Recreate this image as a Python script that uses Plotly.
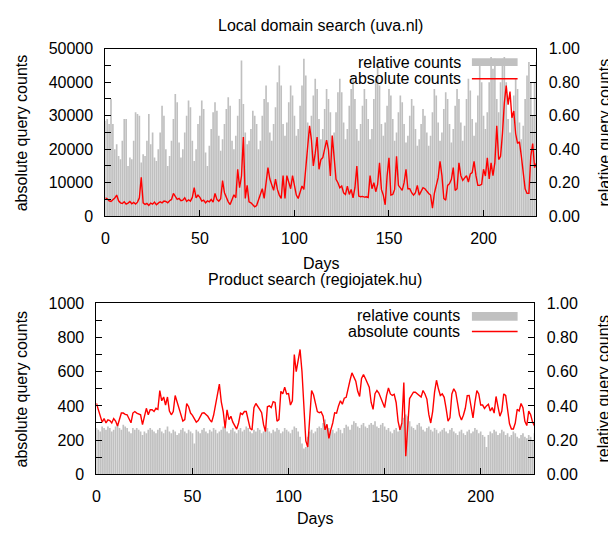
import plotly.graph_objects as go

# ---------------- data ----------------
rel_uva = [
    0.57, 0.58, 0.55, 0.70, 0.55, 0.40, 0.43,
    0.36, 0.34, 0.45, 0.58, 0.58, 0.30, 0.35,
    0.34, 0.45, 0.62, 0.61, 0.60, 0.32, 0.37,
    0.36, 0.45, 0.61, 0.43, 0.50, 0.35, 0.33,
    0.40, 0.50, 0.66, 0.60, 0.40, 0.30, 0.36,
    0.45, 0.58, 0.73, 0.68, 0.44, 0.35, 0.40,
    0.50, 0.60, 0.69, 0.65, 0.45, 0.33, 0.40,
    0.55, 0.60, 0.69, 0.64, 0.38, 0.30, 0.42,
    0.52, 0.62, 0.68, 0.63, 0.48, 0.39, 0.46,
    0.55, 0.64, 0.71, 0.66, 0.45, 0.40, 0.48,
    0.60, 0.70, 0.93, 0.67, 0.50, 0.43, 0.45,
    0.52, 0.63, 0.60, 0.55, 0.40, 0.45, 0.60,
    0.70, 0.78, 0.68, 0.50, 0.45, 0.55, 0.65,
    0.80, 0.90, 0.78, 0.55, 0.48, 0.56, 0.68,
    0.78, 0.72, 0.60, 0.48, 0.52, 0.66, 0.78,
    0.94, 0.84, 0.56, 0.50, 0.60, 0.72, 0.82,
    0.76, 0.58, 0.46, 0.52, 0.64, 0.76, 0.70,
    0.62, 0.48, 0.50, 0.62, 0.74, 0.82, 0.74,
    0.56, 0.46, 0.52, 0.66, 0.76, 0.82, 0.70,
    0.52, 0.45, 0.55, 0.66, 0.76, 0.70, 0.58,
    0.46, 0.52, 0.70, 0.82, 0.92, 0.78, 0.55,
    0.48, 0.56, 0.66, 0.76, 0.72, 0.58, 0.45,
    0.50, 0.62, 0.72, 0.68, 0.55, 0.44, 0.48,
    0.60, 0.70, 0.66, 0.52, 0.42, 0.46, 0.55,
    0.64, 0.60, 0.50, 0.42, 0.48, 0.62, 0.76,
    0.72, 0.56, 0.45, 0.50, 0.64, 0.74, 0.70,
    0.55, 0.44, 0.52, 0.66, 0.76, 0.70, 0.56,
    0.45, 0.54, 0.70, 0.82, 0.75, 0.58, 0.48,
    0.56, 0.72, 0.90, 0.80, 0.60, 0.52, 0.62,
    0.80, 0.95, 0.88, 0.94, 0.70, 0.62, 0.80,
    0.94, 0.95, 0.80, 0.58, 0.50, 0.60, 0.72,
    0.82, 0.76, 0.56, 0.46, 0.54, 0.70, 0.84,
    0.92, 0.80, 0.60, 0.80, 0.92,
]

abs_uva = [
    5500, 5200, 4600, 4400, 4900, 5400, 6300, 4600, 4000, 3800,
    4300, 3600, 3900, 4400, 3700, 4100, 3600, 4200, 5500, 11600,
    4000, 3500, 3800, 3200, 3900, 3600, 4200, 3400, 3900, 4300,
    4000, 4500, 4400, 4000, 4600, 5000, 6800, 6000, 5000, 5300,
    4600, 4800, 5500, 4400, 4900, 4500, 5600, 8500, 5500, 6300,
    5600, 4500, 4800, 4000, 4600, 4300, 5000, 4200, 6800, 5000,
    4500, 5200, 10600, 7000, 5500, 4300, 3500, 5000, 6400, 5500,
    14000, 8500, 12000, 23600, 5300, 9200, 4300, 4000, 3500, 2800,
    3200, 5000, 6600, 8200, 5300, 10000, 14500, 11100, 9000, 7700,
    11100, 8000, 6300, 5300, 12100, 5300, 12100, 10000, 8200, 12100,
    9000, 6300, 5300, 7200, 9000, 8000, 14000, 18800, 27000, 22700,
    15000, 18800, 23600, 14000, 16900, 17500, 19800, 22700, 19800, 12000,
    24100, 16900, 11000, 10000, 8500, 9000, 7000, 6500, 9000, 6500,
    8000, 5500, 8500, 15000, 6000, 5800, 5900, 5700, 5800, 5600,
    12100, 8200, 10000, 7300, 9500, 15900, 8000, 6300, 3400, 12000,
    17400, 6300, 6500, 8000, 17900, 9200, 8500, 7700, 10000, 14000,
    8200, 8200, 7000, 6300, 7000, 9200, 6300, 7500, 8500, 8200,
    7300, 6800, 6300, 2400, 6800, 9200, 11500, 16400, 12100, 5300,
    4800, 9200, 9700, 11000, 14500, 7700, 8200, 15900, 12100, 10700,
    11500, 12100, 10200, 12600, 13000, 16400, 12100, 9200, 9200, 9500,
    14000, 12000, 17400, 11100, 15900, 12100, 16000, 27000, 16900, 17900,
    24600, 33800, 39000, 33300, 37200, 29400, 31400, 24600, 21700, 22200,
    17900, 12100, 8200, 6800, 6800, 17900, 21700, 14500, 15900,
]

rel_regio = [
    0.27, 0.26, 0.25, 0.28, 0.27, 0.26, 0.28,
    0.27, 0.25, 0.26, 0.28, 0.29, 0.27, 0.26,
    0.29, 0.28, 0.27, 0.25, 0.24, 0.27, 0.26,
    0.27, 0.26, 0.25, 0.23, 0.25, 0.24, 0.26,
    0.27, 0.26, 0.25, 0.24, 0.26, 0.27, 0.25,
    0.24, 0.26, 0.28, 0.25, 0.24, 0.26, 0.25,
    0.23, 0.24, 0.26, 0.27, 0.25, 0.24, 0.26,
    0.25, 0.24, 0.18, 0.26, 0.25, 0.24, 0.26,
    0.27, 0.25, 0.24, 0.26, 0.25, 0.27, 0.26,
    0.24, 0.25, 0.26, 0.28, 0.27, 0.25, 0.24,
    0.26, 0.27, 0.25, 0.24, 0.26, 0.27, 0.25,
    0.26, 0.28, 0.27, 0.25, 0.24, 0.26, 0.25,
    0.27, 0.26, 0.24, 0.25, 0.26, 0.27, 0.25,
    0.24, 0.26, 0.25, 0.27, 0.26, 0.24, 0.25,
    0.27, 0.26, 0.25, 0.24, 0.26, 0.28, 0.27,
    0.25, 0.22, 0.18, 0.15, 0.16, 0.22, 0.25,
    0.26, 0.24, 0.25, 0.27, 0.28, 0.27, 0.30,
    0.32, 0.29, 0.27, 0.25, 0.26, 0.24, 0.25,
    0.27, 0.26, 0.24, 0.27, 0.29, 0.28, 0.26,
    0.29, 0.31, 0.30, 0.28, 0.27, 0.29, 0.30,
    0.28, 0.27, 0.29, 0.30, 0.29, 0.31, 0.28,
    0.27, 0.29, 0.30, 0.28, 0.26, 0.27, 0.25,
    0.24, 0.26, 0.27, 0.25, 0.28, 0.30, 0.33,
    0.35, 0.34, 0.31, 0.28, 0.27, 0.26, 0.29,
    0.30, 0.28, 0.26, 0.25, 0.27, 0.28, 0.26,
    0.25, 0.27, 0.26, 0.24, 0.25, 0.26, 0.27,
    0.25, 0.24, 0.26, 0.27, 0.25, 0.24, 0.23,
    0.25, 0.26, 0.24, 0.23, 0.25, 0.26, 0.24,
    0.25, 0.27, 0.26, 0.24, 0.25, 0.23, 0.22,
    0.16, 0.23, 0.25, 0.24, 0.26, 0.25, 0.23,
    0.24, 0.26, 0.25, 0.23, 0.24, 0.22, 0.23,
    0.25, 0.24, 0.22, 0.21, 0.23, 0.24, 0.22,
    0.21, 0.23, 0.22, 0.20, 0.24,
]

abs_regio = [
    415, 377, 330, 305, 326, 300, 318, 314, 300, 326,
    311, 282, 320, 358, 358, 350, 348, 320, 301, 358,
    367, 358, 355, 348, 290, 340, 386, 348, 377, 377,
    367, 386, 380, 490, 430, 452, 405, 452, 370, 348,
    367, 461, 424, 386, 350, 311, 320, 414, 395, 358,
    345, 320, 305, 314, 340, 358, 360, 348, 339, 320,
    305, 345, 405, 470, 527, 424, 367, 270, 377, 320,
    339, 305, 280, 264, 300, 358,
    350, 367, 367, 310, 268, 260, 390, 414, 400, 380,
    360, 290, 250, 395, 400, 390, 425, 420, 310, 320,
    485, 470, 510, 470, 472, 405, 430, 700, 600, 655,
    730, 600, 370, 195, 160, 300, 490, 465, 424, 367,
    360, 365, 340, 260, 292, 210, 260, 300, 360, 358,
    400, 430, 410, 445, 450, 510, 550, 593, 570, 545,
    485, 455, 560, 584, 560, 530, 510, 420, 380, 471,
    490, 475, 443,
    410, 390, 460, 505, 470, 461, 468, 420, 311, 260,
    300, 537, 105, 280, 443, 461, 480, 480, 470, 460,
    452, 490, 470, 440, 350, 300, 367, 480, 550, 500,
    461, 470, 450, 386, 311, 330, 470, 500, 480, 414,
    345, 318, 345, 386, 460, 461, 405, 330, 420, 490,
    470, 405, 405, 385, 400, 410, 370, 390, 358, 455,
    395, 340, 370, 470, 461, 380, 295, 265, 265, 300,
    380, 370, 414, 390, 310, 285, 370, 348, 305, 282,
]

days_uva = list(range(len(rel_uva)))
days_uva_abs = list(range(len(abs_uva)))
days_regio = list(range(len(rel_regio)))
days_regio_abs = list(range(len(abs_regio)))

x_ticks = [0, 50, 100, 150, 200]
rel_ticks = [0.0, 0.2, 0.4, 0.6, 0.8, 1.0]
uva_ticks = [0, 10000, 20000, 30000, 40000, 50000]
regio_ticks = [0, 200, 400, 600, 800, 1000]

# ---------------- layout helpers ----------------
W, H = 608, 537
def px(x):
    return x / W
def py(y):
    return 1 - y / H

FONT = "Liberation Sans, Arial, Helvetica, sans-serif"
GRAY = "#c0c0c0"
RED = "#ff0000"

fig = go.Figure()
fig.add_trace(go.Bar(x=days_uva, y=rel_uva, xaxis="x", yaxis="y",
                     marker=dict(color=GRAY, line=dict(width=0)),
                     name="relative counts", showlegend=False))
fig.add_trace(go.Scatter(x=days_uva_abs, y=abs_uva, xaxis="x", yaxis="y2",
                         mode="lines", line=dict(color=RED, width=1.4),
                         name="absolute counts", showlegend=False))
fig.add_trace(go.Bar(x=days_regio, y=rel_regio, xaxis="x2", yaxis="y3",
                     marker=dict(color=GRAY, line=dict(width=0)),
                     name="relative counts", showlegend=False))
fig.add_trace(go.Scatter(x=days_regio_abs, y=abs_regio, xaxis="x2", yaxis="y4",
                         mode="lines", line=dict(color=RED, width=1.4),
                         name="absolute counts", showlegend=False))

def xax(domain, anchor):
    return dict(domain=domain, anchor=anchor, range=[0, 228],
                tickmode="array", tickvals=x_ticks,
                ticks="inside", ticklen=6, tickcolor="black",
                showline=True, linecolor="black", linewidth=1, mirror=True,
                showgrid=False, zeroline=False, ticklabelstandoff=8,
                tickfont=dict(family=FONT, size=16, color="black"))

def yax(domain, anchor, rng, tickvals, fmt, minor_dtick, side, overlay=None):
    d = dict(domain=domain, anchor=anchor, range=rng, side=side,
             tickmode="array", tickvals=tickvals, tickformat=fmt,
             ticks="inside", ticklen=6, tickcolor="black",
             minor=dict(dtick=minor_dtick, tick0=0, ticks="inside", ticklen=6,
                        tickcolor="black", showgrid=False),
             showline=True, linecolor="black", linewidth=1,
             showgrid=False, zeroline=False, ticklabelstandoff=8,
             tickfont=dict(family=FONT, size=16, color="black"))
    if overlay:
        d["overlaying"] = overlay
        d.pop("domain")
    return d

top_x = [px(102), px(536)]
top_y = [py(215), py(42)]
bot_x = [px(93), px(534)]
bot_y = [py(481.5), py(305)]

fig.update_layout(
    width=W, height=H,
    margin=dict(l=0, r=0, t=0, b=0),
    paper_bgcolor="white", plot_bgcolor="white",
    bargap=0.12,
    showlegend=False,
    font=dict(family=FONT, size=16, color="black"),
    xaxis=xax(top_x, "y"),
    yaxis=yax(top_y, "x", [0, 1], rel_ticks, ".2f", 0.1, "right"),
    yaxis2=yax(top_y, "x", [0, 50000], uva_ticks, "d", 5000, "left", overlay="y"),
    xaxis2=xax(bot_x, "y3"),
    yaxis3=yax(bot_y, "x2", [0, 1], rel_ticks, ".2f", 0.1, "right"),
    yaxis4=yax(bot_y, "x2", [0, 1000], regio_ticks, "d", 100, "left", overlay="y3"),
)

def text(x, y, s, angle=0, xanchor="center"):
    fig.add_annotation(x=px(x), y=py(y), xref="paper", yref="paper", text=s,
                       showarrow=False, textangle=angle, xanchor=xanchor,
                       yanchor="middle",
                       font=dict(family=FONT, size=16, color="black"))

text(319, 18, "Local domain search (uva.nl)")
text(319, 264, "Days")
text(18, 128.5, "absolute query counts", angle=-90)
text(604, 128.5, "relative query counts", angle=-90)
text(313.5, 280, "Product search (regiojatek.hu)")
text(313.5, 527, "Days")
text(18, 393, "absolute query counts", angle=-90)
text(604, 393, "relative query counts", angle=-90)

# legends (gnuplot style: label left, sample right)
text(462, 56, "relative counts", xanchor="right")
text(462, 73, "absolute counts", xanchor="right")
text(461, 318, "relative counts", xanchor="right")
text(461, 334, "absolute counts", xanchor="right")
fig.add_shape(type="rect", xref="paper", yref="paper",
              x0=px(471), x1=px(517), y0=py(60), y1=py(52),
              fillcolor=GRAY, line=dict(width=0))
fig.add_shape(type="line", xref="paper", yref="paper",
              x0=px(471), x1=px(517), y0=py(73), y1=py(73),
              line=dict(color=RED, width=1.4))
fig.add_shape(type="rect", xref="paper", yref="paper",
              x0=px(471), x1=px(517), y0=py(323), y1=py(314),
              fillcolor=GRAY, line=dict(width=0))
fig.add_shape(type="line", xref="paper", yref="paper",
              x0=px(471), x1=px(517), y0=py(334), y1=py(334),
              line=dict(color=RED, width=1.4))

fig.write_html(
    "out.html",
    config={"displayModeBar": False, "staticPlot": True},
    post_script="document.body.style.margin='0';document.body.style.overflow='hidden';",
)
